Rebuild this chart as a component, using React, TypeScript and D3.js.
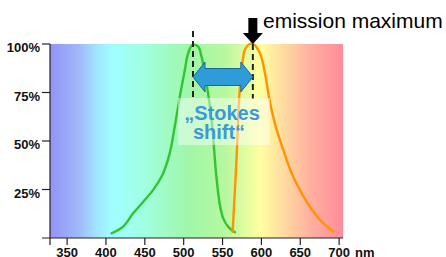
import React from "react";
import * as d3 from "d3";

// wavelength ticks (nm)
const xTicks = [350, 400, 450, 500, 550, 600, 650, 700];
const yTicks = [25, 50, 75, 100];
const yTickLabels = ["25%", "50%", "75%", "100%"];

// excitation / absorption curve (green)
const absNm = [407, 422, 435, 448, 460.6, 473.5, 482, 488.5, 495, 501.5, 505.7, 511.4, 518.6, 523, 529.5, 536, 542, 546.6, 551, 558, 566];
const absPct = [2.4, 5.8, 12.7, 18.7, 24.7, 33.3, 43.6, 57.4, 72.8, 86.6, 95.2, 99.5, 98.6, 93.5, 79.5, 60.5, 32, 17, 10, 5.5, 3];

// emission curve (orange)
const emNm = [563, 568, 571.5, 574.6, 578.8, 585, 589.5, 598.2, 604.6, 608.9, 613.2, 619.7, 628.2, 639, 649.7, 662.6, 677.7, 692.7];
const emPct = [3.2, 41, 73, 86.6, 97, 100, 100, 95.2, 84.9, 74.6, 66, 55.7, 45.4, 33.3, 24.6, 16, 8.4, 3.2];

const absPeak = 512;
const emPeak = 589;

// background spectrum colours, by wavelength
const specNm = [328, 365, 390, 410, 450, 508, 553, 598, 631, 663, 705];
const specColor = ["#9393f8", "#a0b8fa", "#a0e8ff", "#a0ffff", "#a0ffe0", "#a0f7a8", "#b8f7a0", "#ffffa0", "#ffd8a0", "#ffb0a0", "#ff8c9c"];

const font = "'Liberation Sans', Arial, Helvetica, sans-serif";

export default function App() {
  const width = 446;
  const height = 257;
  const x = d3.scaleLinear().domain([328, 705]).range([50, 343]);
  const y = d3.scaleLinear().domain([0, 100]).range([238, 44]);

  const line = d3
    .line<[number, number]>()
    .x((d) => x(d[0]))
    .y((d) => y(d[1]))
    .curve(d3.curveCatmullRom.alpha(0.5));

  const absPath = line(absNm.map((n, i) => [n, absPct[i]]));
  const emPath = line(emNm.map((n, i) => [n, emPct[i]]));

  const x0 = x(328);
  const x1 = x(705);
  const ax = x(absPeak);
  const ex = x(emPeak);
  const ay = 77;

  // blue double arrow between the two maxima
  const head = 12;
  const arrow = [
    [ax, ay],
    [ax + head, ay - 15],
    [ax + head, ay - 8.5],
    [ex - head, ay - 8.5],
    [ex - head, ay - 15],
    [ex, ay],
    [ex - head, ay + 15],
    [ex - head, ay + 8.5],
    [ax + head, ay + 8.5],
    [ax + head, ay + 15],
  ]
    .map((p) => p.join(","))
    .join(" ");

  // black down arrow above emission maximum
  const top = y(100);
  const down = [
    [ex - 4.5, 18],
    [ex + 4.5, 18],
    [ex + 4.5, top - 11],
    [ex + 10, top - 11],
    [ex, top],
    [ex - 10, top - 11],
    [ex - 4.5, top - 11],
  ]
    .map((p) => p.join(","))
    .join(" ");

  return (
    <svg width={width} height={height} style={{ position: "absolute", left: 0, top: 0 }}>
      <defs>
        <linearGradient id="spec" gradientUnits="userSpaceOnUse" x1={x0} x2={x1} y1={0} y2={0}>
          {specNm.map((n, i) => (
            <stop key={n} offset={(x(n) - x0) / (x1 - x0)} stopColor={specColor[i]} />
          ))}
        </linearGradient>
      </defs>
      <rect width={width} height={height} fill="#fff" />
      <rect x={x0} y={y(100)} width={x1 - x0} height={y(0) - y(100)} fill="url(#spec)" />

      {/* axes */}
      <g stroke="#222" strokeWidth={1.2}>
        <line x1={x0} x2={x0} y1={y(100)} y2={y(0) + 7} />
        <line x1={x0 - 8} x2={x1} y1={y(0)} y2={y(0)} />
        {yTicks.map((t) => (
          <line key={t} x1={x0 - 8} x2={x0} y1={y(t)} y2={y(t)} />
        ))}
        {xTicks.map((t) => (
          <line key={t} x1={x(t)} x2={x(t)} y1={y(0)} y2={y(0) + 7} />
        ))}
      </g>
      <g fontFamily={font} fontWeight="bold" fontSize={13} fill="#111">
        {yTicks.map((t, i) => (
          <text key={t} x={x0 - 10} y={y(t) + 8} textAnchor="end">
            {yTickLabels[i]}
          </text>
        ))}
        {xTicks.map((t) => (
          <text key={t} x={x(t)} y={256.5} textAnchor="middle">
            {t}
          </text>
        ))}
        <text x={x(700) + 16} y={256.5}>nm</text>
      </g>

      {/* curves */}
      <path d={absPath ?? ""} fill="none" stroke="#33c433" strokeWidth={2.4} strokeLinecap="round" />
      <path d={emPath ?? ""} fill="none" stroke="#ff9400" strokeWidth={2.4} strokeLinecap="round" />

      {/* peak markers */}
      <line x1={ax} x2={ax} y1={31} y2={99} stroke="#222" strokeWidth={2} strokeDasharray="6,4" />
      <line x1={ex} x2={ex} y1={44} y2={99} stroke="#222" strokeWidth={2} strokeDasharray="6,4" />

      <polygon points={arrow} fill="#2e9cd8" stroke="#1d6796" strokeWidth={1} />

      <rect x={178} y={98} width={92} height={47} fill="#ffffff" opacity={0.45} />
      <g fontFamily={font} fontWeight="bold" fontSize={20} fill="#3a9ad9" textAnchor="middle">
        <text x={222} y={120}>„Stokes</text>
        <text x={219} y={139}>shift“</text>
      </g>

      <polygon points={down} fill="#000" />
      <text x={263} y={28} fontFamily={font} fontSize={21} fill="#000">
        emission maximum
      </text>
    </svg>
  );
}
